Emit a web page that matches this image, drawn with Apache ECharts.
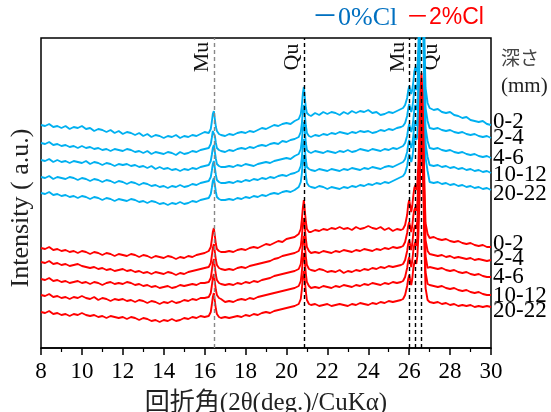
<!DOCTYPE html>
<html>
<head>
<meta charset="utf-8">
<script src="https://cdn.jsdelivr.net/npm/echarts@6/dist/echarts.min.js"></script>
<style>
  html, body { margin: 0; padding: 0; background: #fff; }
  #chart { width: 551px; height: 412px; }
</style>
</head>
<body>
<div id="chart"></div>
<script>
// 2θ sampling positions (deg), denser around the diffraction peaks
const angles = [
  8.0,8.2,8.4,8.6,8.8,9.0,9.2,9.4,9.6,9.8,10.0,10.2,10.4,10.6,10.8,11.0,11.2,11.4,11.6,11.8,
  12.0,12.2,12.4,12.6,12.8,13.0,13.2,13.4,13.6,13.8,14.0,14.2,14.4,14.6,14.8,15.0,15.2,15.4,15.6,15.8,16.0,
  16.2,16.3,16.35,16.4,16.45,16.5,16.55,16.6,16.7,16.8,
  17.0,17.2,17.4,17.6,17.8,18.0,18.2,18.4,18.6,18.8,19.0,19.2,19.4,19.6,19.8,20.0,20.2,20.4,
  20.6,20.7,20.75,20.8,20.85,20.9,20.95,21.0,21.1,
  21.2,21.4,21.6,21.8,22.0,22.2,22.4,22.6,22.8,23.0,23.2,23.4,23.6,23.8,24.0,24.2,24.4,24.6,24.8,25.0,25.2,25.4,25.6,
  25.7,25.8,25.9,25.95,26.0,26.05,26.1,26.15,26.2,26.25,26.3,26.35,26.4,26.45,26.5,26.55,26.6,26.65,26.7,26.75,26.8,26.9,
  27.0,27.2,27.4,27.6,27.8,28.0,28.2,28.4,28.6,28.8,29.0,29.2,29.4,29.6,29.8,30.0
];

// Depth intervals (mm)
const depths = ['0-2', '2-4', '4-6', '10-12', '20-22'];

// Stacked patterns (offset intensity, a.u.) — 0%Cl
const cl0_d0_2 = [
  223,222,224,221,222,220,222,219,221,220,222,219,220,217,219,218,216,218,215,217,
  214,216,215,213,215,212,214,211,213,212,210,212,211,213,210,212,211,213,212,214,216,
  215,219,226,234,237,229,221,217,214,213,
  212,214,213,215,216,215,217,216,218,220,219,221,223,222,224,225,224,227,
  229,234,242,254,261,250,240,235,233,
  232,235,233,236,234,236,235,233,236,234,237,235,237,236,238,235,236,233,234,236,235,237,239,
  240,243,250,257,262,258,254,258,266,276,281,276,280,300,360,420,460,430,380,300,260,245,
  240,238,239,236,235,236,233,232,230,231,228,227,226,227,224,223
];
const cl0_d2_4 = [
  205,204,206,203,204,202,203,201,202,200,202,200,201,199,200,198,199,197,199,198,
  197,199,198,196,197,195,197,194,196,195,194,196,195,193,196,194,195,197,196,198,199,
  200,204,210,217,219,212,205,200,198,197,
  196,198,197,199,200,199,201,200,202,203,202,204,205,204,207,206,208,209,
  211,216,224,236,243,233,222,215,212,
  211,213,212,214,213,215,214,216,215,214,216,215,217,216,217,215,216,218,217,219,218,220,221,
  222,225,232,239,244,240,236,240,248,258,263,258,262,282,330,390,440,410,360,282,240,227,
  220,219,220,218,217,218,216,215,216,214,213,214,212,211,212,210
];
const cl0_d4_6 = [
  188,187,189,186,188,186,187,185,187,186,185,187,184,186,185,183,185,184,182,184,
  183,184,182,183,181,182,180,182,179,181,179,180,178,179,177,179,178,180,179,181,182,
  183,187,193,200,203,196,189,184,182,181,
  181,182,181,183,182,184,183,182,184,185,186,185,187,188,189,190,189,192,
  194,199,207,219,226,216,205,198,196,
  195,197,196,195,197,196,195,197,196,198,196,197,199,198,197,199,198,197,199,198,200,199,201,
  202,205,212,219,224,220,216,220,228,238,243,238,242,262,310,370,420,390,340,262,220,207,
  200,199,200,198,197,198,196,195,196,194,193,194,192,191,192,190
];
const cl0_d10_12 = [
  171,170,172,169,171,170,169,171,170,168,170,169,167,169,168,166,168,167,165,167,
  166,164,166,165,163,165,164,162,163,161,162,160,162,161,163,161,162,164,163,165,166,
  167,171,177,184,187,180,173,168,166,165,
  165,166,165,167,166,168,167,169,168,170,169,171,170,172,173,172,174,175,
  177,182,190,202,209,199,188,181,179,
  178,177,179,178,177,179,178,177,179,178,180,179,178,180,179,181,180,179,181,182,181,183,185,
  186,189,196,203,208,204,200,204,212,222,227,222,226,246,294,354,404,374,324,246,204,191,
  183,182,183,181,182,180,181,179,180,178,179,177,178,176,177,175
];
const cl0_d20_22 = [
  155,154,156,153,154,152,153,151,152,150,152,151,149,151,150,148,150,149,147,149,
  148,147,149,148,146,147,145,147,146,144,145,143,145,144,146,144,145,147,146,148,149,
  150,154,160,167,170,163,156,151,149,148,
  148,149,148,150,149,151,150,152,151,153,152,154,155,154,156,157,156,158,
  161,166,174,186,193,183,172,165,162,
  161,160,162,161,159,161,160,159,161,160,162,161,163,162,164,163,165,164,166,165,167,169,171,
  172,175,182,189,194,190,186,190,198,208,213,208,212,232,280,340,390,360,310,232,190,177,
  166,165,166,164,165,163,164,162,163,161,162,160,161,159,160,158
];

// Stacked patterns (offset intensity, a.u.) — 2%Cl
const cl2_d0_2 = [
  100,99,101,98,99,97,98,96,97,95,97,96,94,96,95,93,95,94,92,94,
  93,92,94,93,91,93,92,90,92,91,90,92,91,89,91,90,92,91,93,94,95,
  97,101,108,116,120,112,104,99,97,96,
  96,97,96,98,99,98,100,101,100,102,104,103,105,107,106,109,110,111,
  114,119,128,140,148,137,126,119,116,
  116,118,117,119,118,120,119,121,119,120,118,121,119,120,122,120,119,121,118,120,117,119,118,
  119,123,133,143,148,142,136,142,152,160,163,158,165,185,220,255,275,255,210,160,125,114,
  110,111,109,108,109,107,106,107,105,104,105,103,102,103,101,101
];
const cl2_d2_4 = [
  86,85,87,84,85,83,84,82,83,84,82,81,80,81,79,80,78,79,77,78,
  79,77,78,76,77,75,76,74,76,75,74,76,75,73,75,74,76,77,78,79,80,
  81,85,92,100,104,96,88,83,80,79,
  78,79,78,80,81,80,82,83,84,85,86,87,89,90,92,93,94,95,
  97,102,111,123,130,120,109,101,97,
  95,96,95,97,96,95,97,96,98,97,96,98,97,99,98,97,99,98,100,99,101,100,101,
  102,106,115,122,126,121,116,122,132,138,141,137,145,165,200,238,258,238,195,145,108,97,
  94,93,92,93,91,92,90,91,90,89,90,88,89,88,87,88
];
const cl2_d4_6 = [
  69,68,70,67,68,66,67,65,66,67,65,66,64,66,65,63,65,66,64,65,
  64,66,65,63,64,62,63,61,62,60,61,62,60,61,63,62,63,64,63,65,65,
  66,70,77,85,89,81,73,68,65,64,
  63,64,63,65,64,66,65,67,66,68,69,70,72,73,74,75,76,77,
  79,84,93,105,112,102,91,83,79,
  78,77,79,78,76,77,76,78,75,77,76,78,77,79,78,80,79,81,80,82,81,82,83,
  84,88,97,104,108,103,98,104,114,120,123,119,127,147,182,222,242,222,180,128,92,80,
  81,80,79,80,78,77,78,76,75,76,74,73,74,72,71,71
];
const cl2_d10_12 = [
  53,52,54,51,52,50,51,49,51,50,52,50,49,51,48,50,49,47,49,48,
  49,47,48,46,48,47,45,47,46,44,46,45,47,45,46,48,47,49,48,50,50,
  51,55,62,70,74,66,58,53,50,49,
  46,47,46,48,49,48,50,49,51,52,53,54,55,56,57,58,59,60,
  62,67,76,88,95,85,74,66,62,
  60,61,60,62,61,60,62,61,63,62,61,63,62,64,63,65,64,63,65,64,66,65,66,
  67,71,80,87,91,86,81,87,97,103,106,102,110,130,165,205,228,208,165,112,76,64,
  63,62,61,62,60,59,60,58,57,58,56,55,56,54,53,53
];
const cl2_d20_22 = [
  36,35,37,34,35,33,34,32,34,33,35,33,32,33,31,32,30,32,31,30,
  31,29,31,30,28,30,29,27,28,26,28,27,29,27,28,30,29,31,30,32,31,
  32,36,43,51,55,47,39,34,31,30,
  31,30,31,32,31,33,32,34,33,35,36,35,37,38,39,40,41,42,
  44,49,58,70,77,67,56,48,44,
  43,44,42,43,44,42,43,44,43,42,44,43,45,44,43,45,44,46,45,47,46,47,48,
  49,53,62,69,73,68,63,69,79,85,88,84,92,112,147,188,212,192,150,98,60,48,
  46,45,46,44,45,43,44,42,43,42,43,41,42,41,42,41
];

// Reference peak positions (2θ) and their mineral names
const refLines = [
  { pos: 16.45, name: 'Mu' },
  { pos: 20.85, name: 'Qu' },
  { pos: 26.0,  name: 'Mu' },
  { pos: 26.3,  name: '' },
  { pos: 26.6,  name: 'Qu' }
];

const xTicks = { min: 8, max: 30, interval: 2 };

const BLUE = '#00B0F0';
const RED = '#FF0000';
const SERIF = "'Liberation Serif', 'Times New Roman', 'Noto Sans CJK JP', serif";

function trace(values, color, label, labelShift) {
  return {
    type: 'line',
    data: angles.map((a, i) => [a, values[i]]),
    showSymbol: false,
    symbol: 'none',
    clip: true,
    lineStyle: { color: color, width: 1.9 },
    endLabel: {
      show: true,
      formatter: label,
      fontFamily: SERIF,
      fontSize: 23,
      color: '#000',
      distance: 2,
      offset: [0, labelShift]
    },
    animation: false,
    silent: true
  };
}

const series = [
  trace(cl0_d0_2, BLUE, depths[0], -3),
  trace(cl0_d2_4, BLUE, depths[1], 0),
  trace(cl0_d4_6, BLUE, depths[2], 0),
  trace(cl0_d10_12, BLUE, depths[3], 2),
  trace(cl0_d20_22, BLUE, depths[4], 4),
  trace(cl2_d0_2, RED, depths[0], -3),
  trace(cl2_d2_4, RED, depths[1], -1),
  trace(cl2_d4_6, RED, depths[2], 0),
  trace(cl2_d10_12, RED, depths[3], 1),
  trace(cl2_d20_22, RED, depths[4], 4)
];

// dashed reference lines drawn on top of all traces
series.push({
  type: 'line',
  data: [],
  silent: true,
  animation: false,
  markLine: {
    symbol: 'none',
    silent: true,
    animation: false,
    label: { show: false },
    lineStyle: { type: [4, 3], width: 1.4, color: '#000' },
    data: refLines.map((r, i) => ({
      xAxis: r.pos,
      lineStyle: i === 0 ? { color: '#888' } : {}
    }))
  }
});

const chart = echarts.init(document.getElementById('chart'), null, { renderer: 'canvas' });

chart.setOption({
  animation: false,
  backgroundColor: '#fff',
  grid: {
    left: 41, right: 60, top: 38, bottom: 64,
    show: true, borderColor: '#000', borderWidth: 1.5, backgroundColor: 'transparent'
  },
  xAxis: {
    type: 'value',
    min: xTicks.min, max: xTicks.max, interval: xTicks.interval,
    axisLine: { show: true, lineStyle: { color: '#000', width: 1.5 } },
    axisTick: { show: true, inside: false, length: 7, lineStyle: { color: '#000', width: 1.5 } },
    minorTick: { show: true, splitNumber: 2, length: 4, lineStyle: { color: '#000', width: 1.2 } },
    axisLabel: { fontFamily: SERIF, fontSize: 23, color: '#000', margin: 12 },
    splitLine: { show: false }
  },
  yAxis: {
    type: 'value',
    min: 0, max: 310,
    axisLine: { show: false },
    axisTick: { show: false },
    axisLabel: { show: false },
    splitLine: { show: false }
  },
  series: series
});

// text placed relative to the axis scales
const xp = v => chart.convertToPixel({ xAxisIndex: 0 }, v);
const yTop = chart.convertToPixel({ yAxisIndex: 0 }, 310);
const yBottom = chart.convertToPixel({ yAxisIndex: 0 }, 0);
const xLeft = xp(xTicks.min);
const xRight = xp(xTicks.max);

const labelOffsets = [-12, -12, -11, 0, 10];
const graphics = [];
refLines.forEach((r, i) => {
  if (!r.name) return;
  graphics.push({
    type: 'text',
    x: xp(r.pos) + labelOffsets[i],
    y: yTop + 19,
    rotation: Math.PI / 2,
    style: {
      text: r.name, fontFamily: SERIF, fontSize: 22, fill: '#111',
      textAlign: 'center', textVerticalAlign: 'middle'
    }
  });
});

graphics.push(
  {
    type: 'text', x: 21, y: (yTop + yBottom) / 2 + 15, rotation: Math.PI / 2,
    style: { text: 'Intensity ( a.u.)', fontFamily: SERIF, fontSize: 26, fill: '#222',
      textAlign: 'center', textVerticalAlign: 'middle' }
  },
  {
    type: 'text', x: (xLeft + xRight) / 2, y: yBottom + 55,
    style: { text: '回折角(2θ(deg.)/CuKα)', fontFamily: SERIF, fontSize: 25, fill: '#222',
      textAlign: 'center', textVerticalAlign: 'middle' }
  },
  {
    type: 'text', x: xRight + 10, y: yTop + 20,
    style: { text: '深さ', fontFamily: "'Noto Sans CJK JP', sans-serif", fontSize: 19, fill: '#444',
      textAlign: 'left', textVerticalAlign: 'middle' }
  },
  {
    type: 'text', x: xRight + 10, y: yTop + 48,
    style: { text: '(mm)', fontFamily: SERIF, fontSize: 21, fill: '#222',
      textAlign: 'left', textVerticalAlign: 'middle' }
  },
  {
    type: 'text', x: 312, y: 18,
    style: { text: '－0%Cl', fontFamily: SERIF, fontSize: 26, fill: '#0070C0',
      textAlign: 'left', textVerticalAlign: 'middle' }
  },
  {
    type: 'text', x: 406, y: 18,
    style: { text: '－2%Cl', fontFamily: "'Liberation Sans', Arial, 'Noto Sans CJK JP', sans-serif", fontSize: 23, fill: '#FF0000',
      textAlign: 'left', textVerticalAlign: 'middle' }
  }
);

chart.setOption({ graphic: graphics });
</script>
</body>
</html>
